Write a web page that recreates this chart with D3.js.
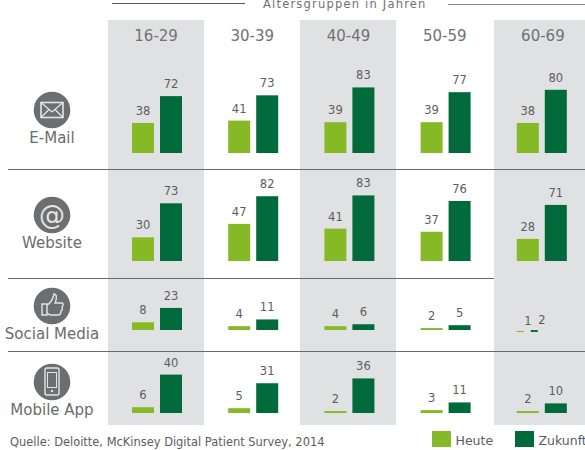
<!DOCTYPE html>
<html>
<head>
<meta charset="utf-8">
<script src="https://cdn.jsdelivr.net/npm/d3@7/dist/d3.min.js"></script>
<style>
html,body{margin:0;padding:0;background:#fff;overflow:hidden}
svg{display:block}
text{font-family:"DejaVu Sans",Verdana,sans-serif}
</style>
</head>
<body>
<svg id="chart" width="585" height="450"></svg>
<script>
const ageGroups = ["16-29","30-39","40-49","50-59","60-69"];
const channels = ["E-Mail","Website","Social Media","Mobile App"];
const seriesNames = ["Heute","Zukunft"];
const heuteValues = [
  [38,41,39,39,38],
  [30,47,41,37,28],
  [8,4,4,2,1],
  [6,5,2,3,2]
];
const zukunftValues = [
  [72,73,83,77,80],
  [73,82,83,76,71],
  [23,11,6,5,2],
  [40,31,36,11,10]
];
const headerTitle = "Altersgruppen in Jahren";
const sourceNote = "Quelle: Deloitte, McKinsey Digital Patient Survey, 2014";

// layout (not data)
const C = {light:"#85b925",dark:"#006a3a",band:"#e0e1e3",text:"#5c5d5f",head:"#707173",row:"#6a6b6d",icon:"#6d6e71",rule:"#6a6a6a"};
const rowBase = [153,261,330,413];
const rowPx = [0.79,0.79,0.96,0.96];
const iconY = [110,215,306,382];
const labelY = [143,248,339,415];

const svg = d3.select("#chart");
const x = d3.scaleBand().domain(ageGroups).range([108,589]);
const xInner = d3.scaleBand().domain(seriesNames).range([24,74]).paddingInner(6/28);
const yScales = rowBase.map((b,i)=>d3.scaleLinear().domain([0,100]).range([b,b-100*rowPx[i]]));

// shaded age columns
svg.append("g").selectAll("rect").data(ageGroups.filter((d,i)=>i%2===0)).join("rect")
  .attr("x",d=>d==="60-69"?494:Math.round(x(d)))
  .attr("y",20)
  .attr("width",96)
  .attr("height",405)
  .attr("fill",C.band);

// rules
const rules = [[169,585],[278,494],[351,585]];
svg.append("g").selectAll("line").data(rules).join("line")
  .attr("x1",8).attr("x2",d=>d[1])
  .attr("y1",d=>d[0]+.5).attr("y2",d=>d[0]+.5)
  .attr("stroke",C.rule).attr("stroke-width",1);

// top header
svg.append("line").attr("x1",112).attr("x2",245).attr("y1",3.5).attr("y2",3.5).attr("stroke","#555").attr("stroke-width",1.2);
svg.append("line").attr("x1",448).attr("x2",585).attr("y1",4.5).attr("y2",4.5).attr("stroke","#888").attr("stroke-width",1);
svg.append("text").attr("x",263).attr("y",8).attr("font-size",11.5).attr("letter-spacing",1.2)
  .attr("fill",C.head).text(headerTitle);

// age headers
svg.append("g").selectAll("text").data(ageGroups).join("text")
  .attr("x",d=>x(d)+x.bandwidth()/2+(d==="60-69"?2:0)).attr("y",41)
  .attr("text-anchor","middle").attr("font-size",15).attr("fill",C.head).text(d=>d);

// bars + value labels
channels.forEach((ch,r)=>{
  const y = yScales[r];
  const g = svg.append("g").attr("class","row");
  ageGroups.forEach((age,c)=>{
    const narrow = ch==="Social Media" && age==="60-69";
    const cells = [
      {s:seriesNames[0],v:heuteValues[r][c],col:C.light},
      {s:seriesNames[1],v:zukunftValues[r][c],col:C.dark}
    ];
    const gc = g.append("g").attr("transform",`translate(${x(age)},0)`);
    gc.selectAll("rect").data(cells).join("rect")
      .attr("x",d=>xInner(d.s)+(narrow&&d.s==="Zukunft"?-14:0))
      .attr("y",d=>y(d.v)+(narrow?2:0))
      .attr("width",d=>narrow?7:xInner.bandwidth())
      .attr("height",d=>Math.max(1,y(0)-y(d.v)))
      .attr("fill",d=>d.col);
    gc.selectAll("text").data(cells).join("text")
      .attr("x",d=>narrow?xInner(d.s)+(d.s==="Heute"?11:-3):xInner(d.s)+xInner.bandwidth()/2)
      .attr("y",d=>y(d.v)-(narrow?4:8))
      .attr("text-anchor","middle").attr("font-size",11.5).attr("fill",C.text).text(d=>d.v);
  });
});

// row labels + icons
svg.append("g").selectAll("text").data(channels).join("text")
  .attr("x",52).attr("y",(d,i)=>labelY[i]).attr("text-anchor","middle")
  .attr("font-size",15).attr("fill",C.row).text(d=>d);

const icons = svg.append("g").selectAll("g").data(channels).join("g")
  .attr("transform",(d,i)=>`translate(52,${iconY[i]})`);
icons.append("circle").attr("r",18.3).attr("fill",C.icon);
const ice = "#e4e4e4";
// mail
const mail = d3.select(icons.nodes()[0]);
mail.append("rect").attr("x",-11).attr("y",-7.5).attr("width",22).attr("height",15).attr("fill","none").attr("stroke",ice).attr("stroke-width",1.6);
mail.append("path").attr("d","M-11,-7.5L0,2L11,-7.5M-11,7.5L-3,-0.5M11,7.5L3,-0.5").attr("fill","none").attr("stroke",ice).attr("stroke-width",1.3);
// at sign
const at = d3.select(icons.nodes()[1]);
at.append("text").attr("y",9).attr("text-anchor","middle").attr("font-size",26).attr("fill",ice).text("@");
// thumb
const th = d3.select(icons.nodes()[2]);
th.append("path").attr("d","M-10,-2H-5V9H-10Z M-5,-1C-1,-3 1,-7 2,-12C5,-12 5,-7 3,-3H10C12,-3 11,0 10,1C11,3 10,5 9,5C9,7 8,9 6,9H-1C-3,9 -4,8 -5,7")
  .attr("fill","none").attr("stroke",ice).attr("stroke-width",1.4);
// phone
const ph = d3.select(icons.nodes()[3]);
ph.append("rect").attr("x",-7).attr("y",-14).attr("width",14).attr("height",27).attr("rx",2).attr("fill","none").attr("stroke",ice).attr("stroke-width",1.4);
ph.append("rect").attr("x",-4.5).attr("y",-9.5).attr("width",9).attr("height",15).attr("fill","none").attr("stroke",ice).attr("stroke-width",1);
ph.append("circle").attr("cy",9).attr("r",1.2).attr("fill",ice);

// source
svg.append("text").attr("x",10).attr("y",446).attr("font-size",11.45).attr("fill",C.text).text(sourceNote);

// legend
const legendX = d3.scaleOrdinal().domain(seriesNames).range([432,515]);
const lg = svg.append("g").selectAll("g").data(seriesNames).join("g")
  .attr("transform",d=>`translate(${legendX(d)},431)`);
lg.append("rect").attr("width",19).attr("height",16).attr("fill",(d,i)=>i?C.dark:C.light);
lg.append("text").attr("x",23.5).attr("y",14).attr("font-size",12.5).attr("fill",C.text).text(d=>d);
</script>
</body>
</html>
